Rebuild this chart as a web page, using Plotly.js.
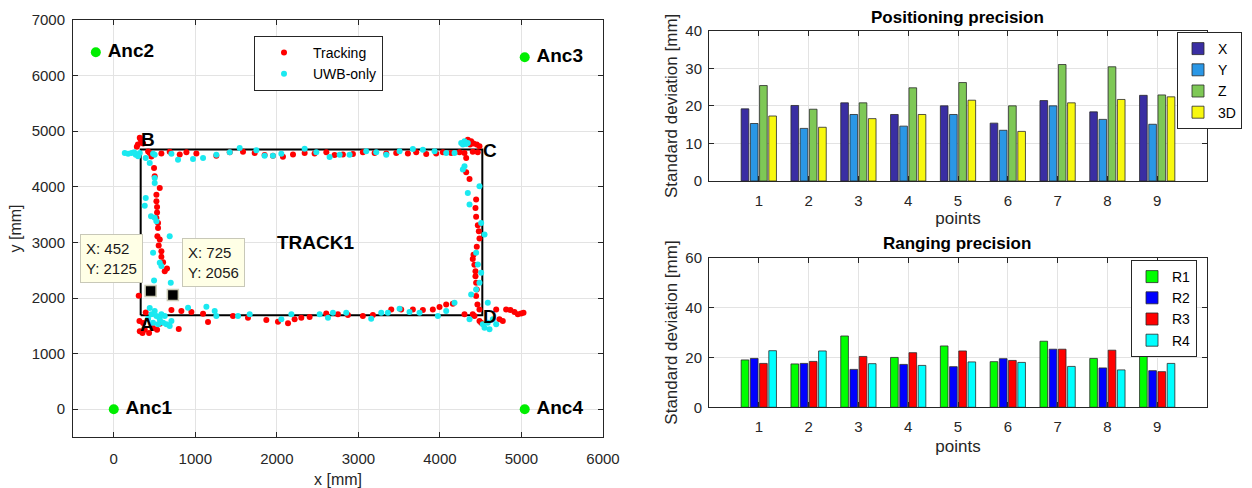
<!DOCTYPE html>
<html>
<head>
<meta charset="utf-8">
<script src="https://cdn.plot.ly/plotly-3.0.1.min.js"></script>
<style>html,body{margin:0;padding:0;background:#fff;}#chart{width:1252px;height:488px;}</style>
</head>
<body>
<div id="chart"></div>
<script>
// ---------- Left plot data ----------
const trackX = [319,296,283,340,330,360,
  421,462,494,502,564,523,523,531,531,523,543,543,535,564,551,584,584,605,653,625,306,
  319,352,380,433,482,531,564,797,360,315,
  392,707,829,952,1095,1156,1462,1646,1871,2014,2137,2218,2300,2402,2606,2749,2872,3055,3178,3403,3525,3668,3791,3913,3995,4077,4158,4301,4403,
  4342,4383,4412,4452,4485,4370,4301,4322,4322,4363,4444,4436,4444,4465,4477,4485,4452,4412,4403,4423,4436,4436,4444,4452,4444,4460,4485,
  4424,4485,4506,4690,4730,4771,4812,4865,4914,4955,4996,5025,
  441,584,686,809,891,1013,1258,1422,1585,1728,1850,1952,2075,2198,2341,2463,2607,2708,2810,2933,3055,3199,3342,3464,3607,3709,3832,3954,4036,4138,4240,4403,4464];
const trackY = [4883,4760,4720,4800,4850,4780,
  4637,4547,4338,4188,3980,3858,3740,3636,3540,3440,3350,3261,3110,3050,2944,2842,2740,2645,2530,2482,2040,
  1400,1370,1430,1370,1460,1430,1538,1442,1550,1585,
  1740,1783,1765,1747,1717,1568,1676,1646,1604,1574,1544,1616,1646,1658,1723,1706,1693,1676,1693,1795,1795,1795,1783,1795,1837,1885,1897,1706,1706,
  4847,4817,4780,4760,4730,4760,4608,4518,4260,4140,3770,3620,3460,3310,3200,3070,2920,2780,2700,2600,2482,2393,2273,2154,2034,1884,1795,
  1676,1586,1556,1795,1616,1586,1795,1783,1750,1706,1723,1736,
  4610,4600,4630,4580,4620,4600,4560,4620,4630,4610,4570,4560,4540,4580,4610,4600,4620,4570,4580,4590,4620,4610,4600,4610,4600,4620,4590,4600,4620,4610,4620,4630,4620];
const uwbX = [135,176,217,270,319,299,392,441,502,250,
  502,502,392,380,502,523,457,686,482,564,584,494,699,
  441,502,462,523,564,605,543,646,686,707,421,584,625,482,
  482,707,788,972,1095,1258,1422,1544,1749,1850,1952,2055,2341,2484,2647,2770,2892,3096,3219,3342,3505,3668,3791,3934,4077,4179,
  4261,4301,4342,4281,4322,
  4301,4281,4342,4363,4485,4506,4547,4444,4465,4506,4485,4444,4383,4587,
  4363,4526,4608,4690,4547,4587,4649,
  911,1136,1238,1258,1524,1667,2055,2178,2525,2627,2688,2851,3157,3280,3362,3505,3627,3750,3975,4077,4179];
const uwbY = [4608,4596,4608,4578,4608,4548,4518,4428,4578,4620,
  4158,4068,3800,3657,3442,3381,3470,3112,2813,2633,2574,2316,2274,
  1820,1765,1706,1676,1616,1556,1526,1526,1496,1586,1628,1706,1676,1556,
  4596,4596,4488,4500,4518,4578,4620,4698,4656,4560,4560,4596,4686,4620,4536,4578,4578,4638,4620,4578,4638,4680,4668,4638,4608,4608,
  4788,4817,4788,4760,4770,
  4369,4309,3890,3680,4009,3351,3142,2813,2603,2453,2274,2154,2065,1914,
  1616,1526,1436,1526,1466,1556,1616,
  1826,1843,1765,1676,1676,1706,1616,1706,1706,1646,1736,1736,1628,1736,1736,1808,1747,1736,1676,1765,1914];
const rectX = [330, 330, 4520, 4520, 330];
const rectY = [1690, 4670, 4670, 1690, 1690];
const cornerNames = ['A', 'B', 'C', 'D'];
const ancNames = ['Anc1', 'Anc2', 'Anc3', 'Anc4'];
const ancX = [0, -220, 5040, 5040];
const ancY = [0, 6420, 6330, 0];
const tipX = [452, 725];
const tipY = [2125, 2056];

// ---------- Right plots data ----------
const points = [1, 2, 3, 4, 5, 6, 7, 8, 9];
const posX  = [19.2, 20.1, 20.8, 17.7, 20.0, 15.4, 21.4, 18.4, 22.8];
const posY  = [15.3, 14.0, 17.7, 14.6, 17.7, 13.5, 20.0, 16.4, 15.1];
const posZ  = [25.4, 19.1, 20.8, 24.8, 26.2, 20.0, 31.0, 30.4, 22.9];
const pos3D = [17.3, 14.3, 16.6, 17.7, 21.5, 13.2, 20.8, 21.7, 22.4];
const r1 = [19.0, 17.4, 28.6, 20.0, 24.6, 18.3, 26.5, 19.6, 23.8];
const r2 = [19.6, 17.6, 15.2, 17.2, 16.3, 19.5, 23.3, 15.8, 14.7];
const r3 = [17.6, 18.4, 20.4, 21.9, 22.6, 18.8, 23.3, 22.9, 14.3];
const r4 = [22.7, 22.6, 17.5, 16.8, 18.2, 18.0, 16.4, 15.0, 17.6];

const FONT = 'Liberation Sans, Arial, Helvetica, sans-serif';
const TICKC = '#262626';
const GRID = '#e3e3e3';
const W = 1252, H = 488;
const px = v => v / W;
const py = v => 1 - v / H;

const traces = [];
traces.push({x: rectX, y: rectY, mode: 'lines', line: {color: '#000', width: 2}, showlegend: false, hoverinfo: 'skip', xaxis: 'x', yaxis: 'y'});
traces.push({x: trackX, y: trackY, mode: 'markers', name: 'Tracking', marker: {color: '#ff0000', size: 6}, xaxis: 'x', yaxis: 'y', legend: 'legend'});
traces.push({x: uwbX, y: uwbY, mode: 'markers', name: 'UWB-only', marker: {color: '#1ae9f0', size: 6}, xaxis: 'x', yaxis: 'y', legend: 'legend'});
traces.push({x: ancX, y: ancY, mode: 'markers+text', text: ancNames, texttemplate: ' %{text}', textposition: 'middle right',
  textfont: {family: FONT, size: 19, color: '#000', weight: 'bold'},
  marker: {color: '#00ee00', size: 10}, showlegend: false, xaxis: 'x', yaxis: 'y'});
traces.push({x: tipX, y: tipY, mode: 'markers', marker: {symbol: 'square', color: '#000', size: 11, line: {color: '#c9c9b4', width: 1.5}}, showlegend: false, xaxis: 'x', yaxis: 'y'});

const barLine = {color: '#2a2a2a', width: 0.8};
const posSeries = [['X', posX, '#3a2ea3'], ['Y', posY, '#2a97e6'], ['Z', posZ, '#7ec856'], ['3D', pos3D, '#f8f80e']];
posSeries.forEach(s => traces.push({type: 'bar', x: points, y: s[1], name: s[0], marker: {color: s[2], line: barLine}, xaxis: 'x2', yaxis: 'y2', legend: 'legend2'}));
const rngSeries = [['R1', r1, '#00ff00'], ['R2', r2, '#0000ff'], ['R3', r3, '#ff0000'], ['R4', r4, '#00ffff']];
rngSeries.forEach(s => traces.push({type: 'bar', x: points, y: s[1], name: s[0], marker: {color: s[2], line: barLine}, xaxis: 'x3', yaxis: 'y3', legend: 'legend3'}));

const axBase = {showgrid: true, gridcolor: GRID, gridwidth: 1, zeroline: false, showline: true, mirror: 'ticks',
  linecolor: TICKC, linewidth: 1, ticks: 'inside', ticklen: 5, tickcolor: TICKC,
  tickfont: {family: FONT, size: 15, color: TICKC}, fixedrange: true};
const titleFont = {family: FONT, size: 16, color: TICKC};
const titleFontR = {family: FONT, size: 17, color: TICKC};

// annotations
const ann = [];
const cornerShift = [[6, -9], [7, 10], [8, -1], [8, -1]];
cornerNames.forEach((c, i) => ann.push({x: rectX[i], y: rectY[i], xref: 'x', yref: 'y', text: c, showarrow: false,
  xanchor: 'center', yanchor: 'middle', xshift: cornerShift[i][0], yshift: cornerShift[i][1],
  font: {family: FONT, size: 19, color: '#000', weight: 'bold'}}));
ann.push({x: 2475, y: 3000, xref: 'x', yref: 'y', text: 'TRACK1', showarrow: false, font: {family: FONT, size: 19, color: '#000', weight: 'bold'}});
const tipAnchor = [['right', -8], ['left', 9]];
tipX.forEach((t, i) => ann.push({x: t, y: tipY[i], xref: 'x', yref: 'y', text: 'X: ' + t + '<br>Y: ' + tipY[i], align: 'left', showarrow: false,
  xanchor: tipAnchor[i][0], yanchor: 'bottom', xshift: tipAnchor[i][1], yshift: 8,
  bgcolor: '#ffffe6', bordercolor: '#c8c8b8', borderwidth: 1, borderpad: 5,
  font: {family: FONT, size: 15, color: '#1a1a1a'}}));
ann.push({x: px(957), y: py(17), xref: 'paper', yref: 'paper', text: 'Positioning precision', showarrow: false, xanchor: 'center', yanchor: 'middle', font: {family: FONT, size: 17, color: '#000', weight: 'bold'}});
ann.push({x: px(957), y: py(243), xref: 'paper', yref: 'paper', text: 'Ranging precision', showarrow: false, xanchor: 'center', yanchor: 'middle', font: {family: FONT, size: 17, color: '#000', weight: 'bold'}});

const legBase = {bgcolor: '#ffffff', bordercolor: TICKC, borderwidth: 1, font: {family: FONT, size: 14, color: '#000'}, xanchor: 'left', yanchor: 'top', tracegroupgap: 0};

const layout = {
  width: W, height: H,
  margin: {l: 0, r: 0, t: 0, b: 0, autoexpand: false},
  paper_bgcolor: '#fff', plot_bgcolor: '#fff',
  barmode: 'group', bargap: 0.26, bargroupgap: 0.17,
  font: {family: FONT},
  xaxis: Object.assign({}, axBase, {domain: [px(73), px(603)], range: [-500, 6000], tickvals: [0,1000,2000,3000,4000,5000,6000], anchor: 'y',
    ticklabelstandoff: 8, title: {text: 'x [mm]', font: titleFont, standoff: 7}}),
  yaxis: Object.assign({}, axBase, {domain: [py(437), py(20)], range: [-500, 7000], tickvals: [0,1000,2000,3000,4000,5000,6000,7000], anchor: 'x',
    ticklabelstandoff: 4, title: {text: 'y [mm]', font: titleFont, standoff: 6}}),
  xaxis2: Object.assign({}, axBase, {domain: [px(709), px(1207)], range: [0, 10], tickvals: points, anchor: 'y2',
    ticklabelstandoff: 6, title: {text: 'points', font: titleFontR, standoff: 3}}),
  yaxis2: Object.assign({}, axBase, {domain: [py(181), py(30.7)], range: [0, 40], tickvals: [0,10,20,30,40], anchor: 'x2',
    ticklabelstandoff: 3, title: {text: 'Standard deviation [mm]', font: titleFontR, standoff: 3}}),
  xaxis3: Object.assign({}, axBase, {domain: [px(709), px(1207)], range: [0, 10], tickvals: points, anchor: 'y3',
    ticklabelstandoff: 6, title: {text: 'points', font: titleFontR, standoff: 5}}),
  yaxis3: Object.assign({}, axBase, {domain: [py(407.3), py(257.7)], range: [0, 60], tickvals: [0,20,40,60], anchor: 'x3',
    ticklabelstandoff: 3, title: {text: 'Standard deviation [mm]', font: titleFontR, standoff: 3}}),
  legend: Object.assign({}, legBase, {x: px(254), y: py(36), itemwidth: 48}),
  legend2: Object.assign({}, legBase, {x: px(1177), y: py(32)}),
  legend3: Object.assign({}, legBase, {x: px(1131), y: py(260)}),
  annotations: ann,
  showlegend: true
};

Plotly.newPlot('chart', traces, layout, {displayModeBar: false, staticPlot: true});
</script>
</body>
</html>
